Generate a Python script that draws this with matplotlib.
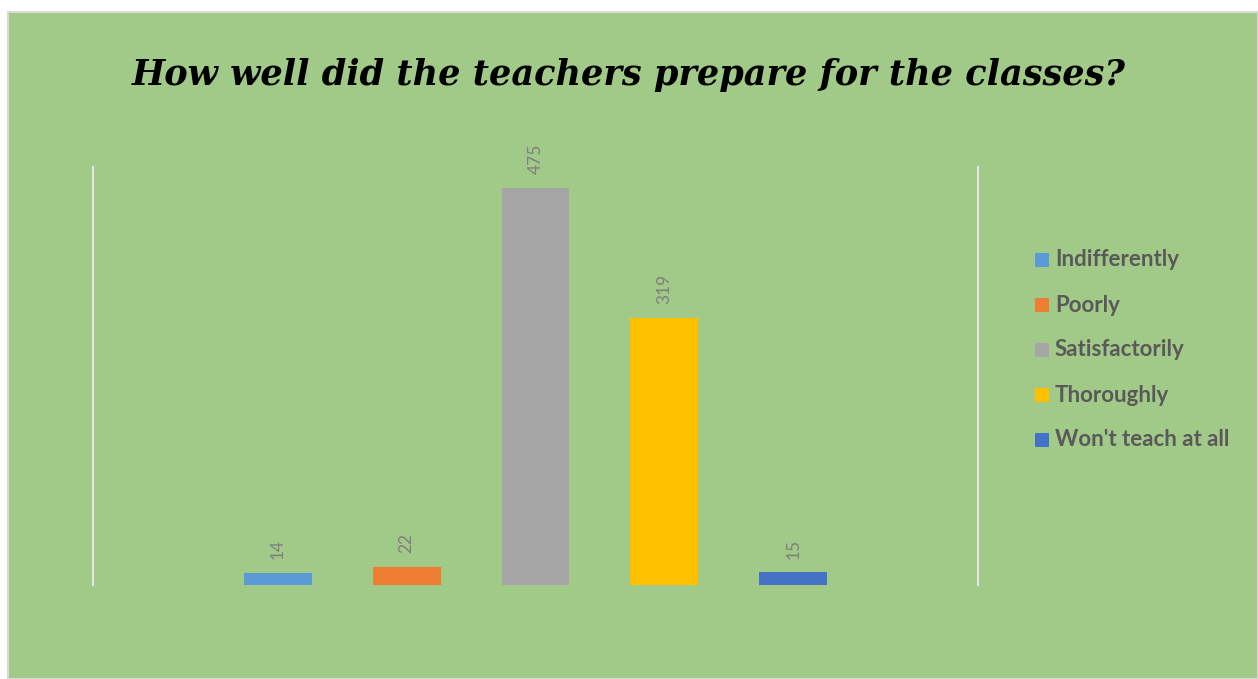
import matplotlib
matplotlib.use("Agg")
import matplotlib.pyplot as plt
from matplotlib.patches import Rectangle

W, H = 1258, 679

categories = ["Indifferently", "Poorly", "Satisfactorily", "Thoroughly", "Won't teach at all"]
values = [14, 22, 475, 319, 15]
colors = ["#5B9BD5", "#ED7D31", "#A5A5A5", "#FFC000", "#4472C4"]
title = "How well did the teachers prepare for the classes?"

fig = plt.figure(figsize=(W / 100, H / 100), dpi=100)
fig.patch.set_facecolor("white")

# chart area (green panel), kept behind the axes
bg = Rectangle((8 / W, 0), (W - 8) / W, (H - 12) / H, transform=fig.transFigure,
               facecolor="#A1C988", edgecolor="#D9D9D9", linewidth=1.5, zorder=-5)
fig.patches.append(bg)

ax = fig.add_axes([93 / W, (H - 585) / H, (978 - 93) / W, (585 - 167) / H])
ax.set_facecolor("none")

x = list(range(len(values)))
bars = ax.bar(x, values, width=0.527, color=colors, zorder=2)
ax.set_xlim(-1.434, 5.434)
ax.set_ylim(0, 500)

for b, v in zip(bars, values):
    ax.annotate(str(v), (b.get_x() + b.get_width() / 2, v), xytext=(0, 10),
                textcoords="offset points", rotation=90, ha="center", va="bottom",
                fontsize=12.5, color="#7F7F7F", family="Lato")

ax.set_xticks([])
ax.set_yticks([])
for s in ["top", "bottom"]:
    ax.spines[s].set_visible(False)
for s in ["left", "right"]:
    ax.spines[s].set_color("#E6E6E6")
    ax.spines[s].set_linewidth(1.5)

fig.text(0.5, (H - 75) / H, title, ha="center", va="center", fontsize=25.3,
         fontweight="bold", fontstyle="italic", family="DejaVu Serif", color="black")

# legend
for i, (c, lab) in enumerate(zip(colors, categories)):
    yc = (H - (260 + 45 * i)) / H
    fig.patches.append(Rectangle((1035 / W, yc - 7 / H), 14 / W, 14 / H,
                                 transform=fig.transFigure, facecolor=c, edgecolor="none"))
    fig.text(1055 / W, yc, lab, ha="left", va="center", fontsize=16, fontweight="bold",
             family="Lato", color="#595959")

fig.savefig("out.png", dpi=100, facecolor=fig.get_facecolor())
